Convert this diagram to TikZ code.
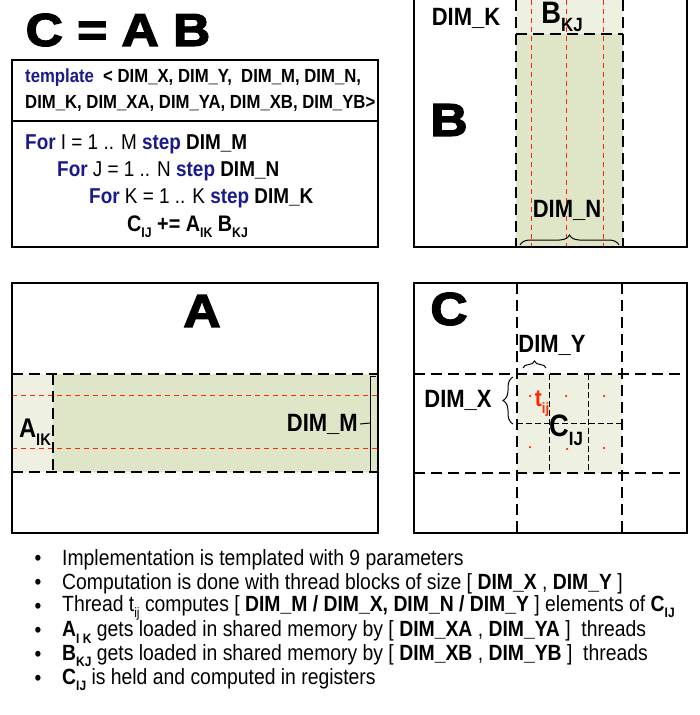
\documentclass[tikz,border=0pt]{standalone}
\usepackage{fontspec}
\setmainfont{Liberation Sans}
\newfontfamily\narrowfont[FakeStretch=0.88]{Liberation Sans}
\newfontfamily\heavyfont[FakeBold=3, FakeStretch=1.12]{Liberation Sans}
\usetikzlibrary{decorations.pathreplacing}
\definecolor{codeblue}{RGB}{26,26,140}
\definecolor{tilegreen}{RGB}{223,230,200}
\definecolor{palegreen}{RGB}{238,241,226}
\definecolor{threadred}{RGB}{255,40,0}
\newcommand{\lowidx}[1]{\raisebox{-0.28em}{\scalebox{0.62}{#1}}}
\newcommand{\kw}[1]{\textcolor{codeblue}{\bfseries #1}}
\tikzset{
	frame/.style={draw, line width=1.2pt},
	tileline/.style={draw, line width=2.6pt, dash pattern=on 11pt off 6pt},
	redline/.style={draw=threadred, line width=0.9pt, dash pattern=on 5pt off 4pt},
	thinline/.style={draw, line width=1pt, dash pattern=on 6pt off 3pt},
	dimbrace/.style={draw, line width=1pt, decorate, decoration={brace, amplitude=#1}},
	dimbrace/.default=5pt
}
\begin{document}
\begin{tikzpicture}[
		x=1pt, y=-1pt,
		biglabel/.style={inner sep=0pt, font=\heavyfont\bfseries\fontsize{46}{46}\selectfont},
		dimlabel/.style={inner sep=0pt, font=\narrowfont\bfseries\fontsize{25}{25}\selectfont},
		idxlabel/.style={inner sep=0pt, font=\narrowfont\bfseries\fontsize{31}{31}\selectfont},
		templine/.style={anchor=west, inner sep=0pt, font=\narrowfont\bfseries\fontsize{19}{19}\selectfont},
		codeline/.style={anchor=west, inner sep=0pt, font=\narrowfont\fontsize{21.5}{21.5}\selectfont},
		bulletline/.style={anchor=west, inner sep=0pt, font=\narrowfont\fontsize{22}{22}\selectfont},
		dot/.style={circle, fill=threadred, inner sep=0pt, minimum size=2.5pt}
		]
		\useasboundingbox (0,0) rectangle (699,715);
		
		% title and code
		\node[biglabel] (title) at (118,30) {C = A B};
		\draw[frame] (12,60) rectangle (378,247);
		\draw[frame] (12,121) -- (378,121);
		\node[templine] (tpl1) at (25,78) {\textcolor{codeblue}{template}\ \ < DIM\_X, DIM\_Y,\ \ DIM\_M, DIM\_N,};
		\node[templine] (tpl2) at (25,103) {DIM\_K, DIM\_XA, DIM\_YA, DIM\_XB, DIM\_YB>};
		\node[codeline] (loopI) at (25,144) {\kw{For} I = 1 .. M \kw{step} \textbf{DIM\_M}};
		\node[codeline] (loopJ) at (57,171) {\kw{For} J = 1 .. N \kw{step} \textbf{DIM\_N}};
		\node[codeline] (loopK) at (89,198) {\kw{For} K = 1 .. K \kw{step} \textbf{DIM\_K}};
		\node[codeline, font=\narrowfont\bfseries\fontsize{22.5}{22.5}\selectfont] (update) at (127,227) {C\lowidx{IJ} += A\lowidx{IK} B\lowidx{KJ}};
		
		% matrix B
		\fill[palegreen] (516,0) rectangle (623,34);
		\fill[tilegreen] (516,34) rectangle (623,247);
		\foreach \x in {531,566,603}
		\draw[redline] (\x,0) -- (\x,247);
		\draw[tileline] (516,0) -- (516,247);
		\draw[tileline] (623,0) -- (623,247);
		\draw[tileline] (516,34) -- (623,34);
		\draw[frame] (414,-2) -- (414,247) -- (687,247) -- (687,-2);
		\node[dimlabel] (dimK) at (466,18) {DIM\_K};
		\node[idxlabel] (Bkj) at (562,17) {B\lowidx{KJ}};
		\node[biglabel] (matB) at (449,120) {B};
		\node[dimlabel] (dimN) at (567,210) {DIM\_N};
		\coordinate (nL) at (520,245);
		\coordinate (nR) at (619,245);
		\draw[dimbrace=10pt] (nL) -- (nR);
		
		% matrix A
		\fill[palegreen] (12,374) rectangle (53,472);
		\fill[tilegreen] (53,374) rectangle (378,472);
		\foreach \y in {395,448}
		\draw[redline] (12,\y) -- (378,\y);
		\draw[tileline] (12,374) -- (378,374);
		\draw[tileline] (12,472) -- (378,472);
		\draw[tileline] (53,374) -- (53,472);
		\draw[frame] (12,283) rectangle (378,533);
		\node[biglabel] (matA) at (202,311) {A};
		\node[idxlabel, font=\narrowfont\bfseries\fontsize{27}{27}\selectfont] (Aik) at (35,432) {A\lowidx{IK}};
		\node[dimlabel, anchor=east] (dimM) at (358,424) {DIM\_M};
		\draw[line width=1pt] (376,376) -- (370,376) -- (370,472) -- (376,472);
		\draw[line width=1pt] (370,423) -- ([xshift=2pt]dimM.east);
		
		% matrix C
		\fill[palegreen] (517,374) rectangle (622,473);
		\draw[thinline] (549,374) -- (549,473);
		\draw[thinline] (588,374) -- (588,473);
		\draw[thinline] (517,423) -- (622,423);
		\draw[tileline] (517,283) -- (517,533);
		\draw[tileline] (622,283) -- (622,533);
		\draw[tileline] (414,374) -- (687,374);
		\draw[tileline] (414,473) -- (687,473);
		\draw[frame] (414,283) rectangle (687,533);
		\node[biglabel] (matC) at (449,309) {C};
		\node[dimlabel] (dimY) at (552,345) {DIM\_Y};
		\coordinate (yL) at (523,368);
		\coordinate (yR) at (546,368);
		\draw[dimbrace=7pt] (yL) -- (yR);
		\node[dimlabel] (dimX) at (458,400) {DIM\_X};
		\coordinate (xB) at (513,424);
		\coordinate (xT) at (513,377);
		\draw[dimbrace=10pt] (xB) -- (xT);
		\foreach \x/\y in {530/396,566/396,604/396,530/447,567/449,604/448}
		\node[dot] at (\x,\y) {};
		\node[idxlabel, text=threadred, font=\narrowfont\bfseries\fontsize{24}{24}\selectfont] (tij) at (542,404) {t\lowidx{ij}};
		\node[idxlabel] (Cij) at (566,430) {C\lowidx{IJ}};
		
		% notes
		\foreach \y/\txt [count=\i] in {
			560/{Implementation is templated with 9 parameters},
			584/{Computation is done with thread blocks of size [ \textbf{DIM\_X} , \textbf{DIM\_Y} ]},
			608/{Thread t\lowidx{ij} computes [ \textbf{DIM\_M / DIM\_X, DIM\_N / DIM\_Y} ] elements of \textbf{C\lowidx{IJ}}},
			632/{\textbf{A\lowidx{I K}} gets loaded in shared memory by [ \textbf{DIM\_XA} , \textbf{DIM\_YA} ]\ \ threads},
			656/{\textbf{B\lowidx{KJ}} gets loaded in shared memory by [ \textbf{DIM\_XB} , \textbf{DIM\_YB} ]\ \ threads},
			680/{\textbf{C\lowidx{IJ}} is held and computed in registers}}
		{
			\node[bulletline, anchor=center] (dot\i) at (38,\y) {\textbullet};
			\node[bulletline] (note\i) at (62,\y) {\txt};
		}
	\end{tikzpicture}
\end{document}
